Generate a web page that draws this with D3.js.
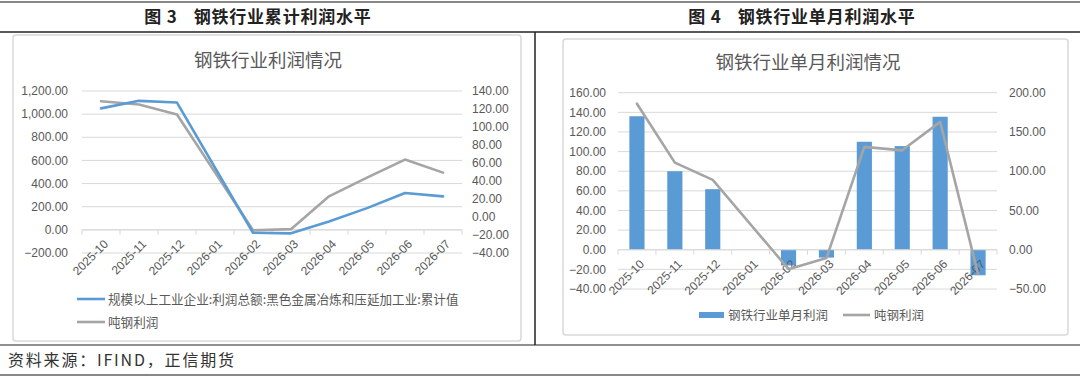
<!DOCTYPE html>
<html><head><meta charset="utf-8">
<script src="https://cdn.jsdelivr.net/npm/d3@7"></script>
<style>body{margin:0;background:#fff}svg{display:block}</style>
</head><body><svg id="c" width="1080" height="379"></svg>
<script>
// ---------- data ----------
const categories = ["2025-10","2025-11","2025-12","2026-01","2026-02","2026-03","2026-04","2026-05","2026-06","2026-07"];
// Fig 3: cumulative profit (left axis) & per-ton profit (right axis)
const cumProfit   = [1050, 1115, 1100, null, -25, -30, 72, 188, 318, 289];
const perTonCum   = [128.6, 125, 113.8, null, -14.8, -13.5, 23, 43.7, 63.8, 49.3];
// Fig 4: monthly profit (bars, left axis) & per-ton profit (line, right axis)
const monthlyProfit = [136, 80, 61.7, null, -16, -8, 110, 105.6, 135.5, -26];
const perTonMonth   = [186, 111, 89, null, -24.7, -10.6, 131, 126.6, 162.8, -31];
// tick labels
const f3LeftTicks  = [-200, 0, 200, 400, 600, 800, 1000, 1200];
const f3RightTicks = [-40, -20, 0, 20, 40, 60, 80, 100, 120, 140];
const f4LeftTicks  = [-40, -20, 0, 20, 40, 60, 80, 100, 120, 140, 160];
const f4RightTicks = [-50, 0, 50, 100, 150, 200];
const legend3 = ["规模以上工业企业:利润总额:黑色金属冶炼和压延加工业:累计值", "吨钢利润"];
const legend4 = ["钢铁行业单月利润", "吨钢利润"];

const BLUE = "#5B9BD5", GRAY = "#A5A5A5", TXT = "#595959", GRID = "#D9D9D9";
const fmt = d3.format(",.2f");
const svg = d3.select("#c");
const FONT = "'Liberation Sans', Arial, sans-serif";
const CJK = "'Noto Sans CJK SC', sans-serif";

// ---------- page frame ----------
svg.append("line").attr("x1",0).attr("x2",1080).attr("y1",2).attr("y2",2).attr("stroke","#888").attr("stroke-width",2);
svg.append("line").attr("x1",0).attr("x2",1080).attr("y1",32).attr("y2",32).attr("stroke","#222").attr("stroke-width",1.5);
svg.append("line").attr("x1",0).attr("x2",1080).attr("y1",345).attr("y2",345).attr("stroke","#222").attr("stroke-width",1.2);
svg.append("line").attr("x1",0).attr("x2",1080).attr("y1",375).attr("y2",375).attr("stroke","#888").attr("stroke-width",2);
svg.append("line").attr("x1",535).attr("x2",535).attr("y1",32).attr("y2",345).attr("stroke","#222").attr("stroke-width",1.5);

function header(cx, num, title){
  const t = svg.append("text").attr("y",23).attr("text-anchor","middle").attr("x",cx)
    .attr("font-family",CJK).attr("font-weight","bold").attr("font-size",17).attr("fill","#222")
    .attr("letter-spacing",0.8);
  t.append("tspan").text("图 " + num);
  t.append("tspan").attr("dx",16).text(title);
}
header(258, 3, "钢铁行业累计利润水平");
header(802, 4, "钢铁行业单月利润水平");

svg.append("text").attr("x",8).attr("y",366).attr("font-family",CJK).attr("font-size",16).attr("fill","#333")
  .attr("letter-spacing",1.8).text("资料来源：IFIND，正信期货");

// chart boxes
svg.append("rect").attr("x",13).attr("y",35).attr("width",508).attr("height",306).attr("rx",3)
  .attr("fill","none").attr("stroke",GRID).attr("stroke-width",1.5);
svg.append("rect").attr("x",563).attr("y",39).attr("width",505).attr("height",296).attr("rx",3)
  .attr("fill","none").attr("stroke",GRID).attr("stroke-width",1.5);

// ---------- helpers ----------
function yAxisLabels(g, scale, ticks, x, anchor){
  g.selectAll(null).data(ticks).join("text")
    .attr("x", x).attr("y", d => scale(d)).attr("dy","0.35em")
    .attr("text-anchor", anchor).attr("font-family",FONT).attr("font-size",12).attr("fill",TXT)
    .text(d => fmt(d));
}
function gridLines(g, scale, ticks, x0, x1){
  g.selectAll(null).data(ticks).join("line")
    .attr("x1",x0).attr("x2",x1).attr("y1",d=>scale(d)).attr("y2",d=>scale(d))
    .attr("stroke",GRID).attr("stroke-width",1);
}
function catAxis(g, x, y0, labelOff){
  const [a,b] = x.range();
  g.append("line").attr("x1",a).attr("x2",b).attr("y1",y0).attr("y2",y0).attr("stroke",GRID).attr("stroke-width",1);
  const bounds = categories.map(c => x(c)).concat([b]);
  g.selectAll(null).data(bounds).join("line")
    .attr("x1",d=>d).attr("x2",d=>d).attr("y1",y0).attr("y2",y0+5).attr("stroke",GRID);
  g.selectAll(null).data(categories).join("text")
    .attr("transform", d => `translate(${x(d)+x.bandwidth()/2+5},${y0+labelOff}) rotate(-45)`)
    .attr("text-anchor","end").attr("dy","0.35em")
    .attr("font-family",FONT).attr("font-size",12).attr("fill",TXT).text(d=>d);
}
function drawLine(g, x, y, vals, color){
  const pts = categories.map((c,i)=>[c, vals[i]]).filter(d => d[1] !== null);
  g.append("path").datum(pts)
    .attr("d", d3.line().x(d => x(d[0]) + x.bandwidth()/2).y(d => y(d[1])))
    .attr("fill","none").attr("stroke",color).attr("stroke-width",2.6)
    .attr("stroke-linejoin","round").attr("stroke-linecap","round");
}

// ---------- Figure 3 ----------
{
  const g = svg.append("g");
  const x = d3.scaleBand().domain(categories).range([82, 462]);
  const yL = d3.scaleLinear().domain([-200, 1200]).range([253, 91]);
  const yR = d3.scaleLinear().domain([-40, 140]).range([253, 91]);
  g.append("text").attr("x",268).attr("y",67).attr("text-anchor","middle")
    .attr("font-family",CJK).attr("font-size",18.5).attr("fill",TXT).text("钢铁行业利润情况");
  gridLines(g, yL, f3LeftTicks, 82, 462);
  catAxis(g, x, yL(0), 12);
  yAxisLabels(g, yL, f3LeftTicks, 68, "end");
  yAxisLabels(g, yR, f3RightTicks, 472, "start");
  drawLine(g, x, yR, perTonCum, GRAY);
  drawLine(g, x, yL, cumProfit, BLUE);
  // legend
  const rows = [[legend3[0], BLUE, 299], [legend3[1], GRAY, 322]];
  rows.forEach(([t,c,yy]) => {
    g.append("line").attr("x1",77).attr("x2",105).attr("y1",yy).attr("y2",yy).attr("stroke",c).attr("stroke-width",2.6);
    g.append("text").attr("x",108).attr("y",yy).attr("dy","0.36em").attr("font-family",CJK)
      .attr("font-size",12.6).attr("fill",TXT).text(t);
  });
}

// ---------- Figure 4 ----------
{
  const g = svg.append("g");
  const x = d3.scaleBand().domain(categories).range([618, 997]);
  const yL = d3.scaleLinear().domain([-40, 160]).range([289, 92.7]);
  const yR = d3.scaleLinear().domain([-50, 200]).range([289, 92.7]);
  g.append("text").attr("x",808).attr("y",69).attr("text-anchor","middle")
    .attr("font-family",CJK).attr("font-size",18.5).attr("fill",TXT).text("钢铁行业单月利润情况");
  gridLines(g, yL, f4LeftTicks, 618, 997);
  yAxisLabels(g, yL, f4LeftTicks, 606, "end");
  yAxisLabels(g, yR, f4RightTicks, 1009, "start");
  const bw = x.bandwidth() * 0.4;
  const bars = categories.map((c,i)=>[c, monthlyProfit[i]]).filter(d => d[1] !== null);
  g.selectAll(null).data(bars).join("rect")
    .attr("x", d => x(d[0]) + (x.bandwidth()-bw)/2).attr("width", bw)
    .attr("y", d => Math.min(yL(d[1]), yL(0))).attr("height", d => Math.abs(yL(d[1]) - yL(0)))
    .attr("fill", BLUE);
  catAxis(g, x, yL(0), 12);
  drawLine(g, x, yR, perTonMonth, GRAY);
  // legend
  g.append("rect").attr("x",699).attr("y",312).attr("width",25).attr("height",6).attr("fill",BLUE);
  g.append("text").attr("x",728).attr("y",315).attr("dy","0.36em").attr("font-family",CJK)
    .attr("font-size",12.5).attr("fill",TXT).text(legend4[0]);
  g.append("line").attr("x1",843).attr("x2",870).attr("y1",315).attr("y2",315).attr("stroke",GRAY).attr("stroke-width",2.6);
  g.append("text").attr("x",874).attr("y",315).attr("dy","0.36em").attr("font-family",CJK)
    .attr("font-size",12.5).attr("fill",TXT).text(legend4[1]);
}
</script></body></html>
